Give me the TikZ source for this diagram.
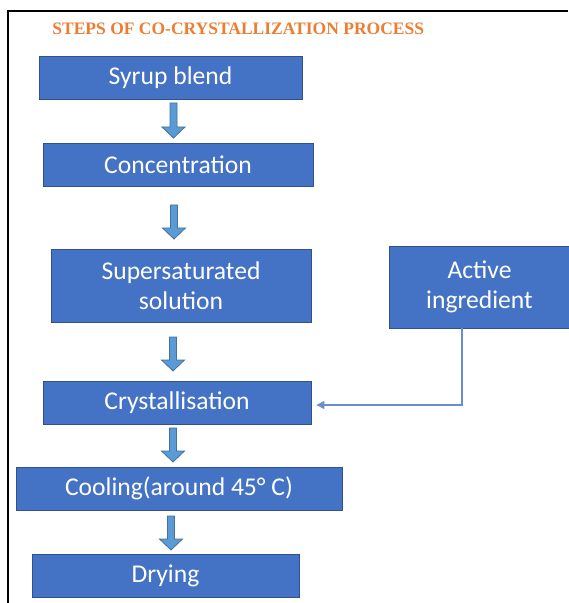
\documentclass[tikz,border=0pt]{standalone}
\usepackage{fontspec}
\setmainfont{Carlito}
\newfontfamily\titlefont{Liberation Serif}
\usetikzlibrary{arrows.meta}

\definecolor{boxblue}{HTML}{4472C4}
\definecolor{boxedge}{HTML}{2F528F}
\definecolor{arrowblue}{HTML}{5B9BD5}
\definecolor{arrowedge}{HTML}{41719C}
\definecolor{titleorange}{HTML}{ED7D31}

\tikzset{
  stepbox/.style={draw=boxedge,fill=boxblue,text=white,line width=0.4pt,
    font=\fontsize{12.8}{15}\selectfont,inner sep=0pt,align=center,
    minimum height=21.5pt},
  blockarrow/.style={draw=arrowedge,fill=arrowblue,line width=0.4pt},
  feed/.style={draw=boxblue!80,line width=0.6pt,-{Triangle[length=4pt,width=4pt]}},
  frame/.style={draw=black,line width=0.6pt}
}

% block arrow: x, top y, tip y
\newcommand{\flowarrow}[3]{%
  \filldraw[blockarrow] (#1-3.5,#2) -- (#1+3.5,#2) -- (#1+3.5,#3-11)
    -- (#1+11.5,#3-11) -- (#1,#3) -- (#1-11.5,#3-11) -- (#1-3.5,#3-11) -- cycle;}

\begin{document}
\begin{tikzpicture}[x=0.5pt,y=-0.5pt]
  \useasboundingbox (0,0) rectangle (568,603);
  \draw[frame] (8,603) -- (8,11) -- (568,11);

  \node[anchor=west,text=titleorange,font=\titlefont\bfseries\fontsize{8.75}{10}\selectfont,inner sep=0pt]
    (title) at (52,29) {STEPS OF CO-CRYSTALLIZATION PROCESS};

  \node[stepbox,minimum width=131.5pt] (syrup) at (170.5,77.5) {Syrup blend};
  \node[stepbox,minimum width=135pt] (conc) at (178,164.5) {Concentration};
  \node[stepbox,minimum width=130pt,minimum height=36.5pt] (super) at (181,285.5) {Supersaturated\\solution};
  \node[stepbox,minimum width=90.5pt,minimum height=41pt] (active) at (479.5,287) {Active\\ingredient};
  \node[stepbox,minimum width=134pt] (cryst) at (177,402.5) {Crystallisation};
  \node[stepbox,minimum width=163pt] (cool) at (179,488.5) {Cooling(around 45° C)};
  \node[stepbox,minimum width=133.5pt] (dry) at (165.5,575.5) {Drying};

  \flowarrow{173.5}{103}{138}
  \flowarrow{174}{205}{239}
  \flowarrow{173}{337}{371}
  \flowarrow{173}{428}{462}
  \flowarrow{171}{516}{550}

  \draw[feed] ([xshift=-8.75pt]active.south) |- ([xshift=2.5pt,yshift=-1.25pt]cryst.east);
\end{tikzpicture}
\end{document}
